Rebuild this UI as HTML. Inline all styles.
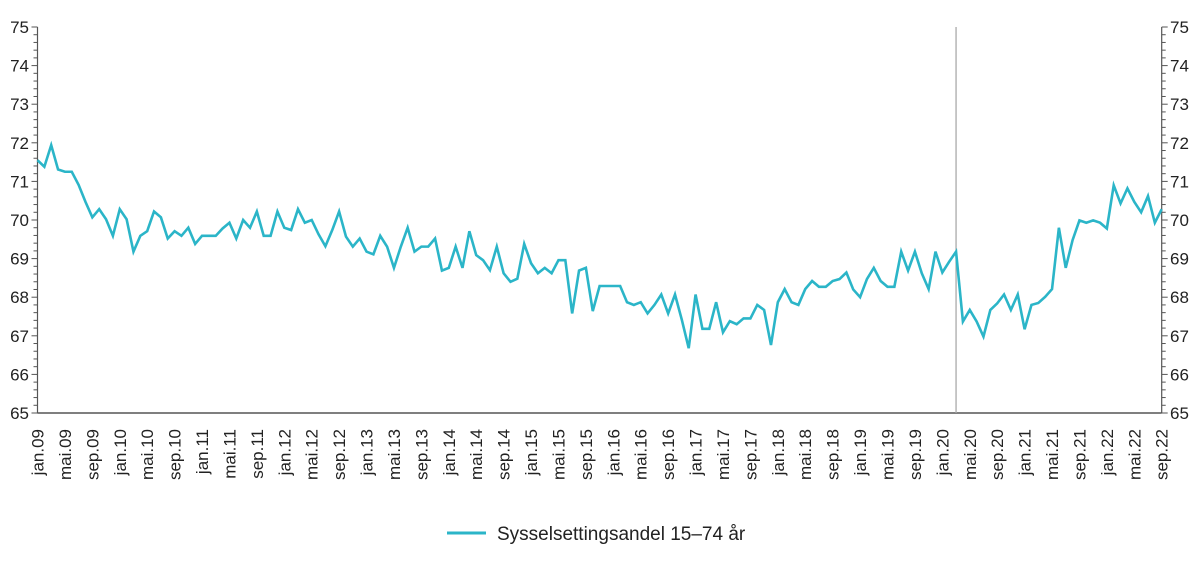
<!DOCTYPE html>
<html><head><meta charset="utf-8"><style>
body{margin:0;background:#fff;}
svg{display:block;font-family:"Liberation Sans",sans-serif;}
</style></head><body>
<svg id="chart" width="1200" height="561" viewBox="0 0 1200 561">
<g id="grid"></g>
<g id="series"></g>
<g id="legend">
<line x1="447" y1="533" x2="486" y2="533" stroke="#2bb5c8" stroke-width="3"/>
<text x="497" y="540" font-size="19" fill="#222">Sysselsettingsandel 15–74 år</text>
</g>
</svg>
<script>
const values = [71.55,71.38,71.94,71.31,71.25,71.25,70.91,70.47,70.07,70.28,70.02,69.59,
70.28,70.02,69.18,69.59,69.71,70.22,70.07,69.52,69.71,69.59,69.8,69.38,
69.59,69.59,69.59,69.78,69.93,69.52,70.0,69.8,70.22,69.59,69.59,70.22,
69.8,69.74,70.28,69.93,70.0,69.63,69.32,69.74,70.22,69.57,69.31,69.52,
69.18,69.11,69.59,69.31,68.76,69.31,69.8,69.18,69.31,69.31,69.52,68.69,
68.76,69.31,68.76,69.71,69.09,68.96,68.7,69.31,68.62,68.4,68.48,69.38,
68.88,68.62,68.76,68.62,68.96,68.96,67.58,68.69,68.76,67.64,68.29,68.29,
68.29,68.29,67.87,67.8,67.87,67.58,67.8,68.07,67.58,68.07,67.41,66.68,
68.07,67.18,67.18,67.87,67.09,67.38,67.3,67.45,67.45,67.8,67.67,66.76,
67.87,68.21,67.87,67.8,68.21,68.42,68.27,68.27,68.42,68.47,68.64,68.2,
68.0,68.47,68.76,68.42,68.27,68.27,69.18,68.69,69.18,68.62,68.21,69.18,
68.64,68.92,69.18,67.37,67.67,67.37,66.98,67.67,67.84,68.07,67.67,68.07,
67.17,67.8,67.85,68.01,68.21,69.8,68.76,69.48,69.99,69.93,69.99,69.93,
69.78,70.9,70.43,70.82,70.47,70.2,70.62,69.93,70.28];
const yTicks = [65,66,67,68,69,70,71,72,73,74,75];
const monthNames = ["jan","mai","sep"];
const startYear = 2009;
const markerIndex = 134;

const X0=37.5, X1=1161.7, Y0=413, Y1=27, YMIN=65, YMAX=75;
const NS="http://www.w3.org/2000/svg";
const xs = i => X0 + (X1-X0)*i/(values.length-1);
const ys = v => Y0 - (Y0-Y1)*(v-YMIN)/(YMAX-YMIN);
function mk(tag, attrs, parent){const e=document.createElementNS(NS,tag);for(const k in attrs)e.setAttribute(k,attrs[k]);parent.appendChild(e);return e;}
const grid=document.getElementById('grid'), ser=document.getElementById('series');

let a=mk('line',{x1:X0,y1:Y0,x2:X1,y2:Y0,stroke:'#555','stroke-width':1.5},grid);


for(const side of [0,1]){
  const x = side? X1 : X0;
  let ax=mk('line',{x1:x,y1:Y1,x2:x,y2:Y0,stroke:'#555','stroke-width':1.2},grid);
  
  
  for(let v=YMIN; v<=YMAX+1e-9; v+=0.2){
    const major = Math.abs(v-Math.round(v))<1e-6;
    const len = major?6:4;
    mk('line',{x1:side?x:x-len,x2:side?x+len:x,y1:ys(v),y2:ys(v),stroke:'#555','stroke-width':1},grid);
  }
  yTicks.forEach(t=>{
    const tx=mk('text',{x:side?1170:29,y:ys(t)+6,'font-size':17,fill:'#222','text-anchor':side?'start':'end'},grid);
    tx.textContent=t;
    
    
  });
}
for(let i=0;i<values.length;i+=4){
  const yr=startYear+Math.floor(i/12);
  const lab=monthNames[(i%12)/4]+"."+String(yr%100).padStart(2,'0');
  const x=xs(i)+6;
  const tx=mk('text',{x:x,y:429,'font-size':17,fill:'#222','text-anchor':'end',transform:`rotate(-90 ${x} 429)`},grid);
  tx.textContent=lab;
  
  
}
const vl=mk('line',{x1:xs(markerIndex),x2:xs(markerIndex),y1:Y1,y2:Y0,stroke:'#aaa','stroke-width':1.3},grid);


const pl=mk('polyline',{points:values.map((v,i)=>xs(i).toFixed(2)+','+ys(v).toFixed(2)).join(' '),fill:'none',stroke:'#2bb5c8','stroke-width':2.6,'stroke-linejoin':'miter'},ser);


</script>
</body></html>
